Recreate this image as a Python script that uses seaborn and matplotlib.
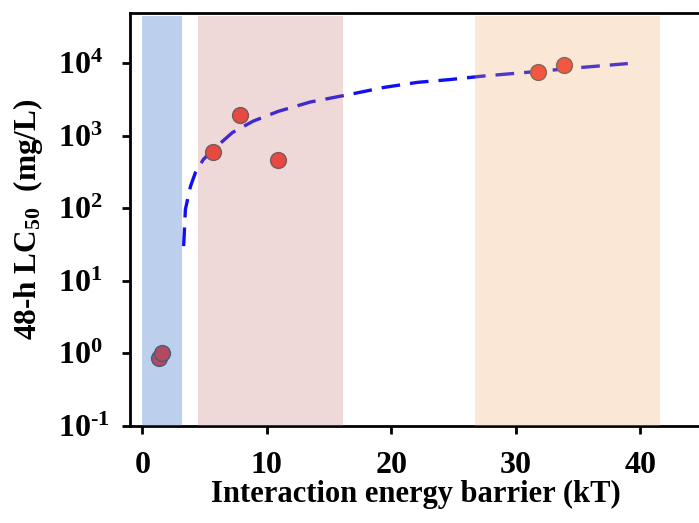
import numpy as np
import pandas as pd
import matplotlib
matplotlib.use("Agg")
import matplotlib.pyplot as plt
import seaborn as sns

# measured points
energy_barrier = [1.36, 1.6, 5.7, 7.8, 10.9, 31.8, 33.9]
lc50 = [0.85, 1.0, 590, 1900, 455, 7400, 9500]

# fitted trend curve
fit_x = [3.31, 3.45, 3.86, 4.26, 4.9, 5.7, 7.23, 8.9, 10.9, 13.5, 16.7, 19.4, 22.1, 24.7, 27.4, 31.6, 35.4, 39.0]
fit_y = [30, 96, 200, 310, 470, 645, 1100, 1580, 2150, 2900, 3700, 4600, 5400, 5900, 6600, 7600, 8700, 9800]

# shaded regions (x ranges)
region_starts = [0.0, 4.5, 26.75]
region_ends = [3.2, 16.1, 41.6]
region_colors = ["#2f6cc4", "#c66f6f", "#f2a76a"]
region_alphas = [0.32, 0.27, 0.27]

x_ticks = [0, 10, 20, 30, 40]
y_ticks = [0.1, 1, 10, 100, 1000, 10000]
y_ticklabels = [r"$\mathbf{10^{\text{-}1}}$", r"$\mathbf{10^{0}}$", r"$\mathbf{10^{1}}$",
                r"$\mathbf{10^{2}}$", r"$\mathbf{10^{3}}$", r"$\mathbf{10^{4}}$"]

sns.set_theme(style="ticks")
plt.rcParams['font.family'] = ['Liberation Serif', 'DejaVu Serif']
plt.rcParams['font.weight'] = 'bold'
plt.rcParams['mathtext.fontset'] = 'custom'
plt.rcParams['mathtext.rm'] = 'Liberation Serif:bold'
plt.rcParams['mathtext.it'] = 'Liberation Serif:bold'
plt.rcParams['mathtext.bf'] = 'Liberation Serif:bold'
plt.rcParams['text.color'] = 'black'
plt.rcParams['axes.labelcolor'] = 'black'
plt.rcParams['xtick.color'] = 'black'
plt.rcParams['ytick.color'] = 'black'

fig = plt.figure(figsize=(6.99, 5.23), dpi=100)
ax = fig.add_axes([0.186, 0.1855, 0.819, 0.79])

pts = pd.DataFrame({"x": energy_barrier, "y": lc50})
fit = pd.DataFrame({"x": fit_x, "y": fit_y})

sns.lineplot(data=fit, x="x", y="y", ax=ax, color="#1010f0", lw=2.4,
             zorder=2, sort=True, estimator=None, dashes=False)
ax.lines[-1].set_linestyle((0, (5.6, 3.0)))
sns.scatterplot(data=pts, x="x", y="y", ax=ax, s=130, color="#f23a32",
                edgecolor="#555555", linewidth=1.0, zorder=3)

for s0, s1, c, a in zip(region_starts, region_ends, region_colors, region_alphas):
    ax.fill_between([s0, s1], [0.1, 0.1], [4.4e4, 4.4e4], color=c, alpha=a,
                    lw=0, zorder=4)

ax.set_yscale("log")
ax.set_xlim(-1, 45)
ax.set_ylim(0.1, 4.9e4)
ax.set_xticks(x_ticks)
ax.set_yticks(y_ticks)
ax.yaxis.set_minor_locator(matplotlib.ticker.NullLocator())
ax.set_yticklabels(y_ticklabels)
ax.tick_params(axis="both", which="major", direction="out", length=6, width=2,
               bottom=True, left=True, colors="black")
ax.tick_params(axis="y", labelsize=23, pad=46)
ax.tick_params(axis="x", labelsize=23, pad=12)
for lab in ax.get_yticklabels():
    lab.set_horizontalalignment("left")
for lab in ax.get_xticklabels():
    lab.set_fontweight("bold")

for sp in ax.spines.values():
    sp.set_linewidth(2)
    sp.set_color("black")
    sp.set_visible(True)

ax.set_xlabel("Interaction energy barrier (kT)", fontsize=22, fontweight="bold", labelpad=0)
ax.set_ylabel(r"48-h LC$_{50}$  (mg/L)", fontsize=22.5, fontweight="bold", labelpad=9)

fig.savefig("out.png", dpi=100)
